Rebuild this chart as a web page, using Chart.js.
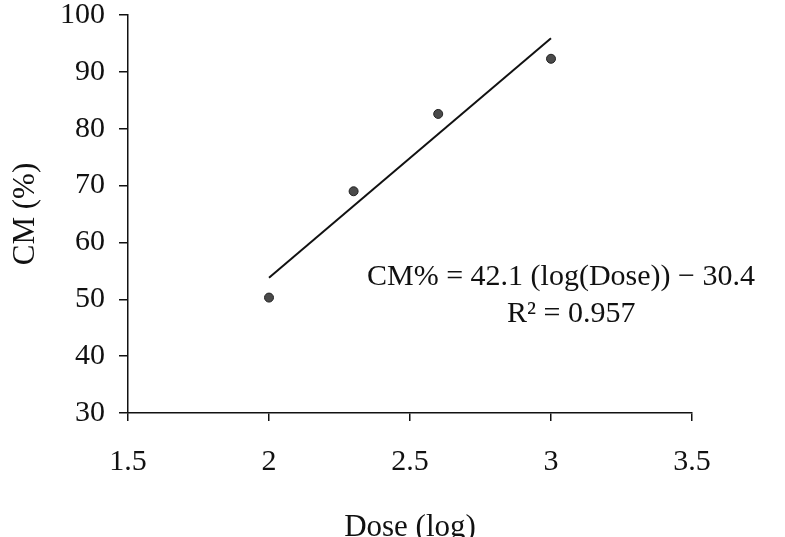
<!DOCTYPE html>
<html>
<head>
<meta charset="utf-8">
<script src="https://cdn.jsdelivr.net/npm/chart.js@4.4.1/dist/chart.umd.min.js"></script>
<style>
  html, body { margin: 0; padding: 0; background: #fff; }
  #wrap { width: 785px; height: 537px; }
</style>
</head>
<body>
<div id="wrap"><canvas id="chart" width="785" height="537"></canvas></div>
<script>
// measured points
var doseLog = [2, 2.3, 2.6, 3];
var cmPct = [50.3, 69.0, 82.6, 92.3];

// trend line ends
var trendX = [2, 3];
var trendY = [53.8, 95.9];

var eqLines = ['CM% = 42.1 (log(Dose)) \u2212 30.4', 'R\u00b2 = 0.957'];

var serif = '"Liberation Serif", "DejaVu Serif", serif';

function pairs(xs, ys) {
    return xs.map(function(x, i) { return {x: x, y: ys[i]}; });
}

// draws the fit equation inside the plot
var equationText = {
    id: 'equationText',
    afterDraw: function(chart) {
        var ctx = chart.ctx;
        ctx.save();
        ctx.fillStyle = '#111';
        ctx.font = '30px ' + serif;
        ctx.textBaseline = 'alphabetic';
        ctx.textAlign = 'left';
        ctx.fillText(eqLines[0], 367, 285);
        ctx.fillText(eqLines[1], 507, 322);
        ctx.restore();
    }
};

new Chart(document.getElementById('chart'), {
    type: 'scatter',
    data: {
        datasets: [{
            label: 'CM',
            data: pairs(doseLog, cmPct),
            pointRadius: 4.5,
            pointBackgroundColor: '#4a4a4a',
            pointBorderColor: '#222',
            pointBorderWidth: 1,
            showLine: false
        }, {
            label: 'fit',
            type: 'line',
            data: pairs(trendX, trendY),
            borderColor: '#111',
            borderWidth: 2,
            pointRadius: 0,
            fill: false
        }]
    },
    options: {
        responsive: false,
        animation: false,
        layout: { padding: { left: 0, right: 93, top: 15, bottom: 0 } },
        plugins: {
            legend: { display: false },
            tooltip: { enabled: false }
        },
        scales: {
            x: {
                type: 'linear',
                min: 1.5,
                max: 3.5,
                ticks: { stepSize: 0.5, color: '#111', padding: 26,
                         callback: function(v) { return String(v); },
                         font: { family: serif, size: 30, lineHeight: 1 } },
                grid: { drawOnChartArea: false, drawTicks: true, tickLength: 8, color: '#111', lineWidth: 1.5 },
                border: { color: '#111', width: 1.5 },
                title: { display: true, text: 'Dose (log)', color: '#111', padding: { top: 0, bottom: -9 },
                         font: { family: serif, size: 31 } },
                afterFit: function(scale) { scale.height = 124; }
            },
            y: {
                min: 30,
                max: 100,
                ticks: { stepSize: 10, color: '#111', padding: 14,
                         font: { family: serif, size: 30, lineHeight: 1 } },
                grid: { drawOnChartArea: false, drawTicks: true, tickLength: 9, color: '#111', lineWidth: 1.5 },
                border: { color: '#111', width: 1.5 },
                title: { display: true, text: 'CM (%)', color: '#111', padding: 7,
                         font: { family: serif, size: 31 } },
                afterFit: function(scale) {
                    scale.width = 128;
                    scale.paddingTop = 0;
                    scale.paddingBottom = 0;
                }
            }
        }
    },
    plugins: [equationText]
});
</script>
</body>
</html>
